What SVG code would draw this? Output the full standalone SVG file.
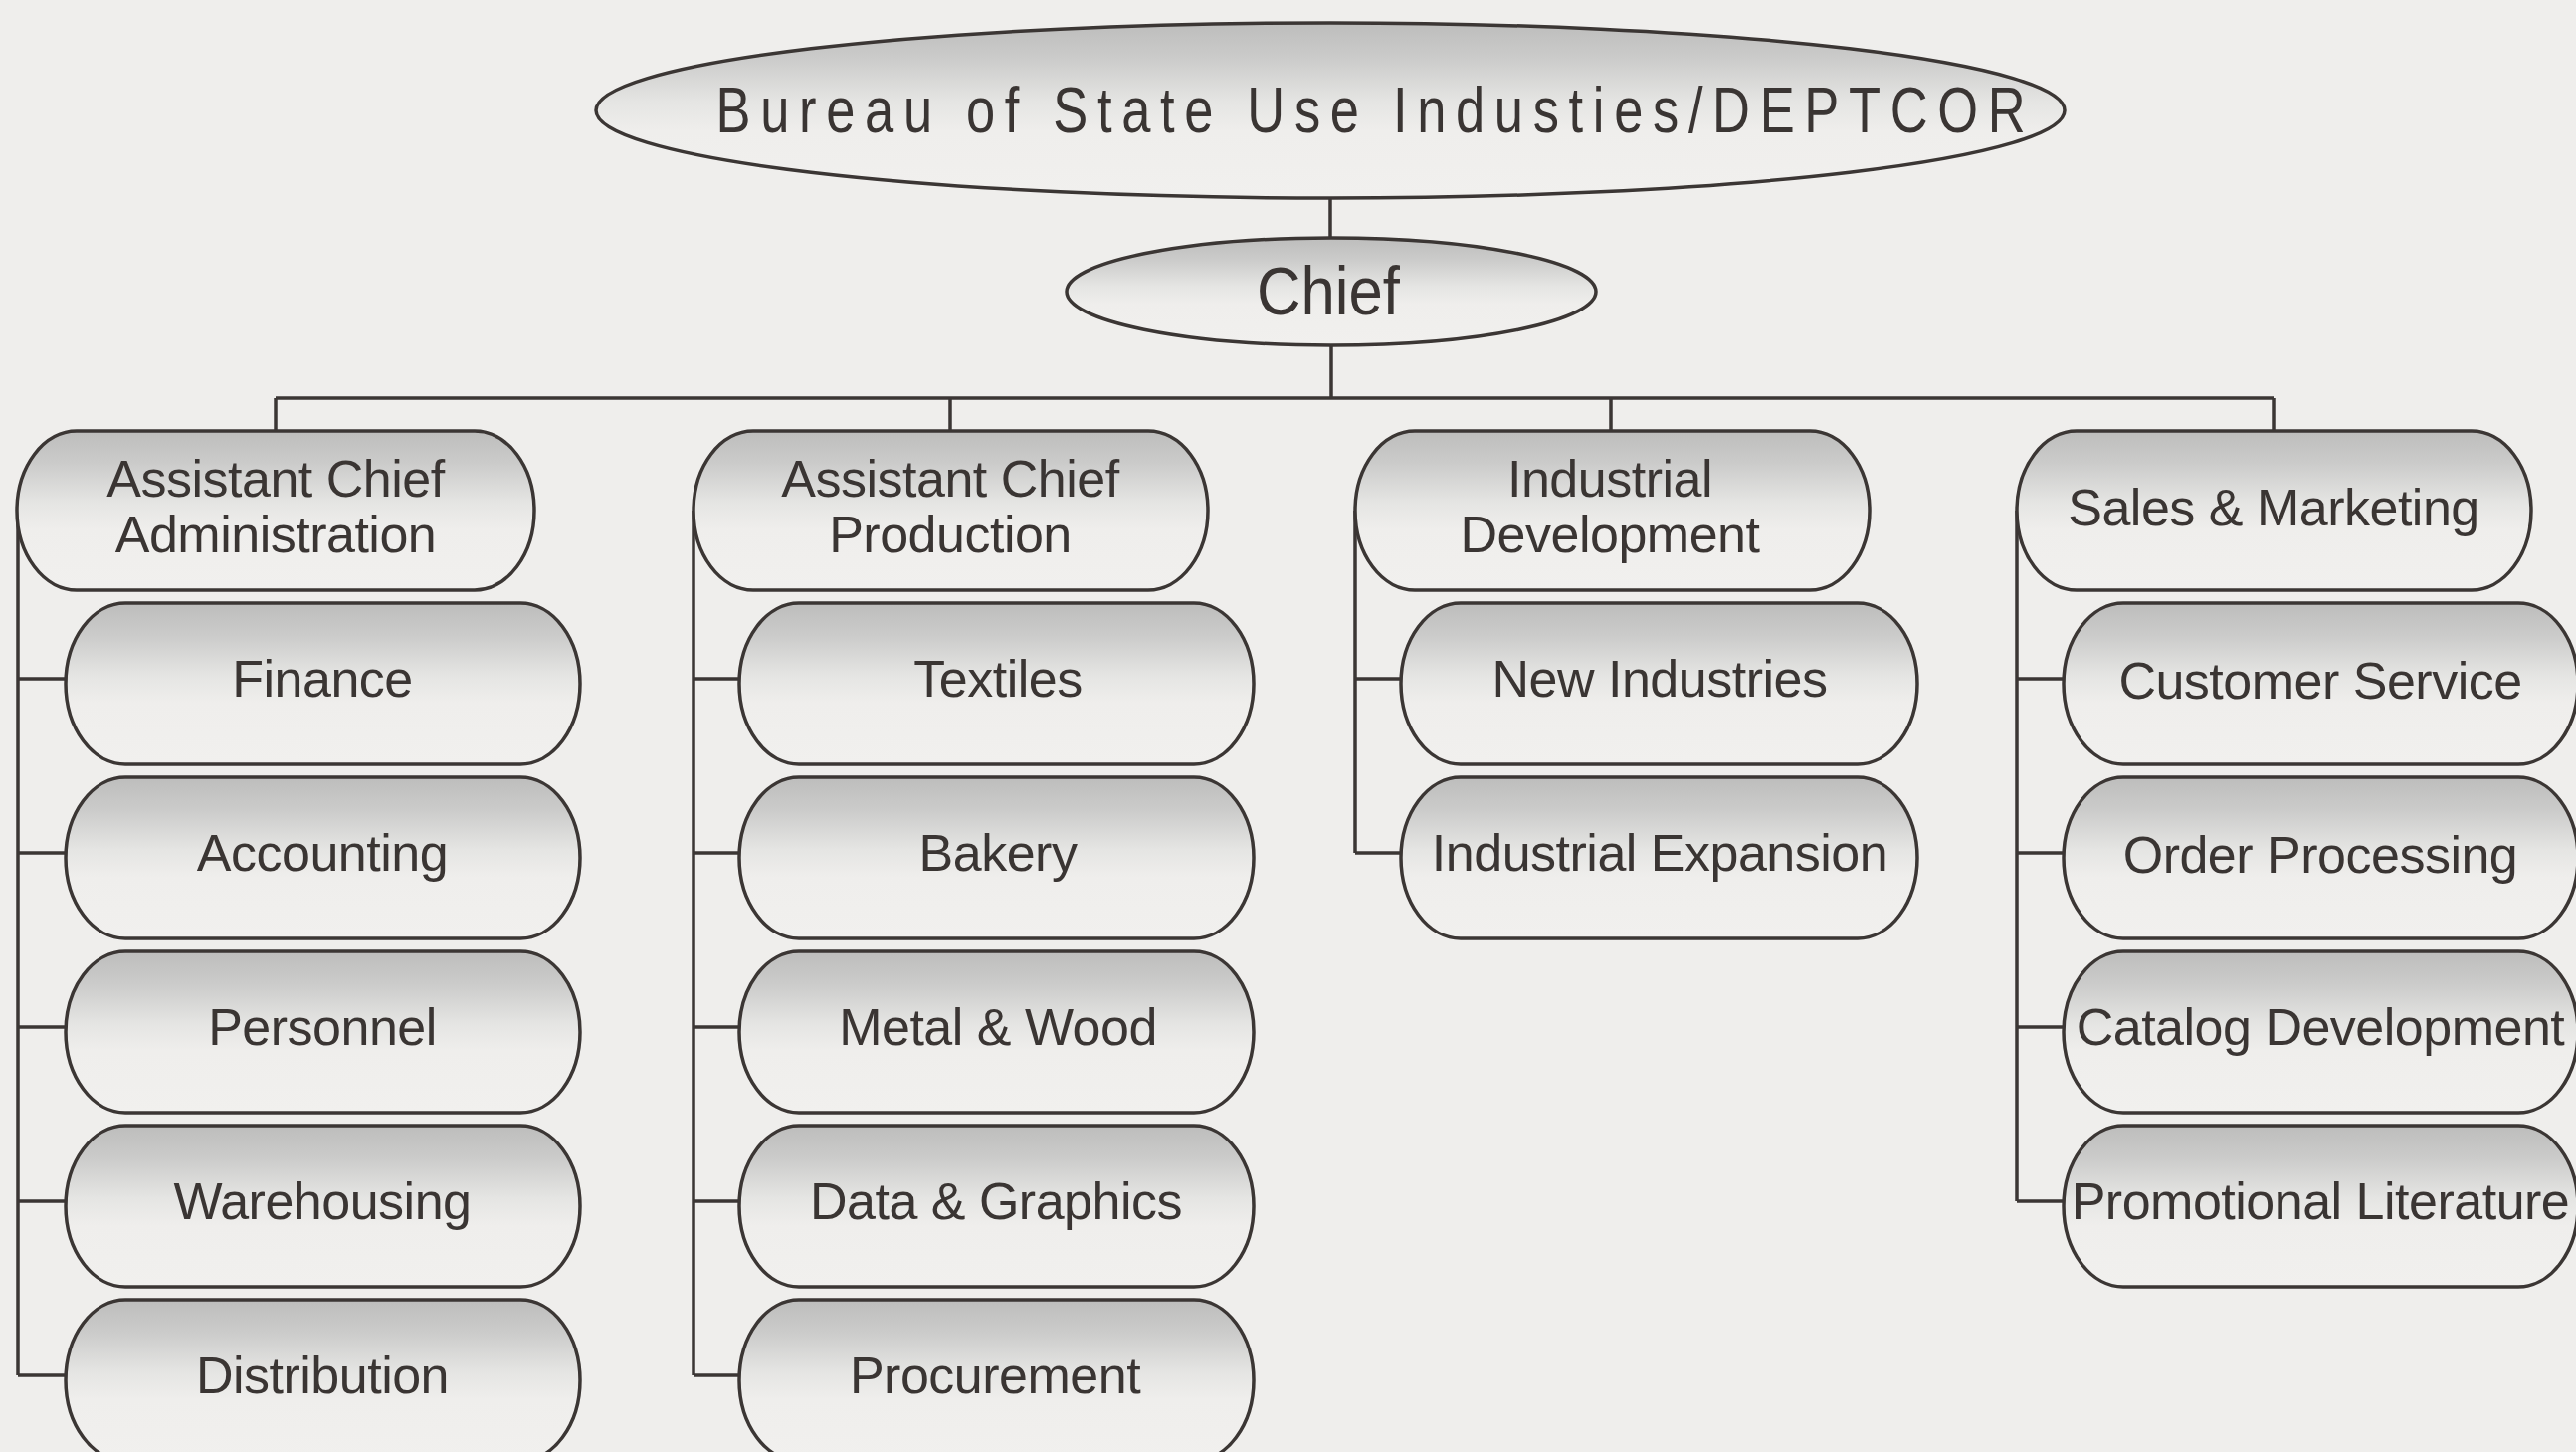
<svg xmlns="http://www.w3.org/2000/svg" width="2589" height="1459" viewBox="0 0 2589 1459">
<defs>
<linearGradient id="shade" x1="0" y1="0" x2="0" y2="1">
<stop offset="0" stop-color="#bdbdbc"/>
<stop offset="0.2" stop-color="#cbcbca"/>
<stop offset="0.45" stop-color="#e5e5e3"/>
<stop offset="0.62" stop-color="#efeeec"/>
<stop offset="1" stop-color="#f1f0ee"/>
</linearGradient>
</defs>
<style>
.bg{fill:#efeeec}
.box{fill:url(#shade);stroke:#3b3634;stroke-width:3.5}
.lbl{font-family:"Liberation Sans",Arial,sans-serif;font-size:52px;letter-spacing:-0.5px;fill:#3a3533;text-anchor:middle}
.conn{fill:none;stroke:#3b3634;stroke-width:3.5}
</style>
<rect class="bg" x="0" y="0" width="2589" height="1459"/>
<g id="connectors" class="conn">
<path d="M1337 200V239M1338 347V400M277 400H2285M277 400V433M955 400V433M1619 400V433M2285 400V433"/>
<path d="M18 513V1382M18 682H66M18 857H66M18 1032H66M18 1207H66M18 1382H66"/>
<path d="M697 513V1382M697 682H743M697 857H743M697 1032H743M697 1207H743M697 1382H743"/>
<path d="M1362 513V857M1362 682H1408M1362 857H1408"/>
<path d="M2027 513V1207M2027 682H2074M2027 857H2074M2027 1032H2074M2027 1207H2074"/>
</g>
<g id="bureau">
<ellipse class="box" cx="1337" cy="111" rx="738" ry="88"/>
<text class="lbl" x="1680" y="133" transform="scale(0.82,1)" style="font-size:64px;letter-spacing:0" textLength="1605" lengthAdjust="spacing">Bureau of State Use Industies/DEPTCOR</text>
</g>
<g id="chief">
<ellipse class="box" cx="1338" cy="293" rx="266" ry="54"/>
<text class="lbl" x="1335" y="316" style="font-size:69px;letter-spacing:0" textLength="144" lengthAdjust="spacingAndGlyphs">Chief</text>
</g>
<g id="asst-admin">
<rect class="box" x="17" y="433" width="520" height="160" rx="60" ry="80"/>
<text class="lbl" x="277" y="499">Assistant Chief</text>
<text class="lbl" x="277" y="555">Administration</text>
</g>
<g id="finance"><rect class="box" x="66" y="606" width="517" height="162" rx="60" ry="81"/><text class="lbl" x="324" y="700">Finance</text></g>
<g id="accounting"><rect class="box" x="66" y="781" width="517" height="162" rx="60" ry="81"/><text class="lbl" x="324" y="875">Accounting</text></g>
<g id="personnel"><rect class="box" x="66" y="956" width="517" height="162" rx="60" ry="81"/><text class="lbl" x="324" y="1050">Personnel</text></g>
<g id="warehousing"><rect class="box" x="66" y="1131" width="517" height="162" rx="60" ry="81"/><text class="lbl" x="324" y="1225">Warehousing</text></g>
<g id="distribution"><rect class="box" x="66" y="1306" width="517" height="162" rx="60" ry="81"/><text class="lbl" x="324" y="1400">Distribution</text></g>
<g id="asst-production">
<rect class="box" x="697" y="433" width="517" height="160" rx="60" ry="80"/>
<text class="lbl" x="955" y="499">Assistant Chief</text>
<text class="lbl" x="955" y="555">Production</text>
</g>
<g id="textiles"><rect class="box" x="743" y="606" width="517" height="162" rx="60" ry="81"/><text class="lbl" x="1003" y="700">Textiles</text></g>
<g id="bakery"><rect class="box" x="743" y="781" width="517" height="162" rx="60" ry="81"/><text class="lbl" x="1003" y="875">Bakery</text></g>
<g id="metal-wood"><rect class="box" x="743" y="956" width="517" height="162" rx="60" ry="81"/><text class="lbl" x="1003" y="1050">Metal &amp; Wood</text></g>
<g id="data-graphics"><rect class="box" x="743" y="1131" width="517" height="162" rx="60" ry="81"/><text class="lbl" x="1001" y="1225">Data &amp; Graphics</text></g>
<g id="procurement"><rect class="box" x="743" y="1306" width="517" height="162" rx="60" ry="81"/><text class="lbl" x="1000" y="1400">Procurement</text></g>
<g id="industrial-development">
<rect class="box" x="1362" y="433" width="517" height="160" rx="60" ry="80"/>
<text class="lbl" x="1618" y="499">Industrial</text>
<text class="lbl" x="1618" y="555">Development</text>
</g>
<g id="new-industries"><rect class="box" x="1408" y="606" width="519" height="162" rx="60" ry="81"/><text class="lbl" x="1668" y="700">New Industries</text></g>
<g id="industrial-expansion"><rect class="box" x="1408" y="781" width="519" height="162" rx="60" ry="81"/><text class="lbl" x="1668" y="875">Industrial Expansion</text></g>
<g id="sales-marketing">
<rect class="box" x="2027" y="433" width="517" height="160" rx="60" ry="80"/>
<text class="lbl" x="2285" y="528">Sales &amp; Marketing</text>
</g>
<g id="customer-service"><rect class="box" x="2074" y="606" width="517" height="162" rx="60" ry="81"/><text class="lbl" x="2332" y="702">Customer Service</text></g>
<g id="order-processing"><rect class="box" x="2074" y="781" width="517" height="162" rx="60" ry="81"/><text class="lbl" x="2332" y="877">Order Processing</text></g>
<g id="catalog-development"><rect class="box" x="2074" y="956" width="517" height="162" rx="60" ry="81"/><text class="lbl" x="2332" y="1050">Catalog Development</text></g>
<g id="promotional-literature"><rect class="box" x="2074" y="1131" width="517" height="162" rx="60" ry="81"/><text class="lbl" x="2332" y="1225">Promotional Literature</text></g>
</svg>
